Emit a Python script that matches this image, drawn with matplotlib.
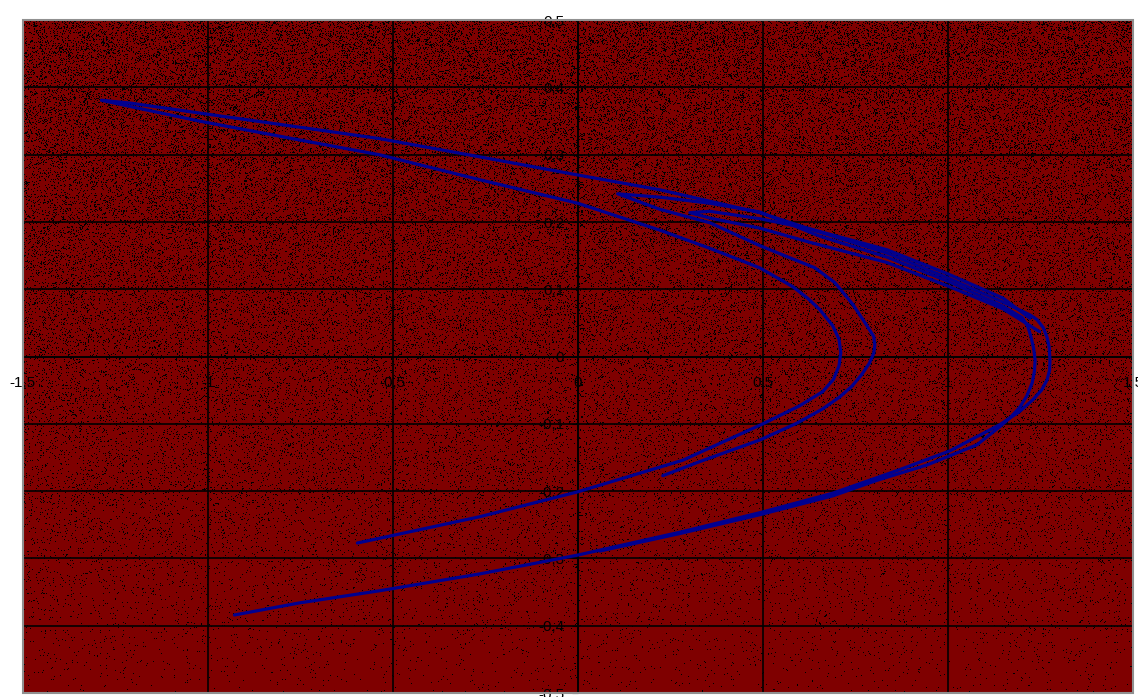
import numpy as np
import matplotlib.pyplot as plt
from matplotlib.patches import Rectangle

# traced branches of the attractor curve
outer_x = [-0.928, -0.752, -0.536, -0.266, -0.001, 0.275, 0.491, 0.688, 0.869, 1.005,
           1.140, 1.192, 1.229, 1.252, 1.267, 1.274, 1.275, 1.273, 1.267, 1.257,
           1.240, 1.221, 1.194, 1.148, 0.999, 0.834, 0.653, 0.491, 0.221, -0.001,
           -0.266, -0.536, -0.752, -1.022, -1.212, -1.287]
outer_y = [-0.384, -0.366, -0.348, -0.323, -0.295, -0.261, -0.232, -0.203, -0.168, -0.140,
           -0.101, -0.082, -0.064, -0.050, -0.035, -0.020, -0.005, 0.014, 0.029, 0.043,
           0.055, 0.062, 0.069, 0.081, 0.117, 0.154, 0.185, 0.214, 0.248, 0.270,
           0.297, 0.324, 0.341, 0.362, 0.377, 0.381]

inner_x = [-0.596, -0.536, -0.266, -0.001, 0.283, 0.499, 0.599, 0.661, 0.690, 0.705,
           0.710, 0.705, 0.688, 0.653, 0.620, 0.580, 0.491, 0.356, 0.221, -0.001,
           -0.266, -0.536, -0.752, -1.022, -1.212, -1.287]
inner_y = [-0.277, -0.270, -0.238, -0.201, -0.154, -0.100, -0.073, -0.052, -0.034, -0.014,
           0.006, 0.026, 0.046, 0.070, 0.087, 0.104, 0.132, 0.161, 0.188, 0.228,
           0.263, 0.300, 0.322, 0.350, 0.372, 0.381]

middle_x = [0.229, 0.329, 0.491, 0.591, 0.660, 0.707, 0.740, 0.766, 0.787, 0.799,
            0.802, 0.799, 0.777, 0.742, 0.694, 0.640, 0.572, 0.491, 0.356,
            0.221, 0.107, 0.221, 0.356, 0.491, 0.653, 0.834, 0.999, 1.148, 1.200,
            1.215, 1.224, 1.231, 1.235, 1.233, 1.227, 1.213, 1.194, 1.169, 1.140,
            1.078, 0.943, 0.807, 0.688, 0.491, 0.275, 0.059]
middle_y = [-0.177, -0.156, -0.124, -0.099, -0.078, -0.060, -0.044, -0.027, -0.010, 0.005,
            0.017, 0.030, 0.049, 0.078, 0.110, 0.132, 0.147, 0.165, 0.199,
            0.219, 0.242, 0.237, 0.228, 0.215, 0.179, 0.148, 0.112, 0.075, 0.058,
            0.045, 0.029, 0.012, -0.005, -0.022, -0.039, -0.058, -0.075, -0.090, -0.104,
            -0.131, -0.161, -0.184, -0.207, -0.235, -0.263, -0.289]

loop_x = [1.247, 1.148, 0.999, 0.834, 0.626, 0.491, 0.356, 0.302, 0.356, 0.491,
          0.626, 0.834, 0.999, 1.148, 1.221]
loop_y = [0.037, 0.071, 0.105, 0.140, 0.170, 0.191, 0.206, 0.214, 0.216, 0.205,
          0.190, 0.159, 0.123, 0.087, 0.057]

x_ticks = [-1.5, -1, -0.5, 0, 0.5, 1, 1.5]
x_labels = ['-1,5', '-1', '-0,5', '0', '0,5', '1', '1,5']
y_ticks = [-0.5, -0.4, -0.3, -0.2, -0.1, 0, 0.1, 0.2, 0.3, 0.4, 0.5]
y_labels = ['-0,5', '-0,4', '-0,3', '-0,2', '-0,1', '0', '0,1', '0,2', '0,3', '0,4', '0,5']

plt.rcParams['font.family'] = ['Liberation Sans', 'DejaVu Sans']

fig = plt.figure(figsize=(11.38, 6.97), dpi=100)
ax = fig.add_axes([0.0200, 0.0057, 0.9758, 0.9653])

# dark red background with black speckles, denser towards the top
rows, cols = 673, 1110
ii, jj = np.meshgrid(np.arange(rows, dtype=np.int64), np.arange(cols, dtype=np.int64), indexing='ij')
k = (ii * 73856093 + jj * 19349663) & 0xFFFFFFFF
k ^= k >> 16
k = (k * 0x45d9f3b) & 0xFFFFFFFF
k ^= k >> 16
k = (k * 0x45d9f3b) & 0xFFFFFFFF
k ^= k >> 16
hashv = k / 2.0 ** 32
density = 0.22 - 0.21 * (ii / (rows - 1))
bg = np.zeros((rows, cols, 3))
bg[..., 0] = np.where(hashv < density, 0.0, 0.5)
ax.imshow(bg, extent=[-1.5, 1.5, -0.5, 0.5], origin='upper', aspect='auto',
          interpolation='nearest', zorder=0)

line_style = dict(color='#000090', lw=2.3, solid_joinstyle='round', solid_capstyle='round', zorder=3)
ax.plot(outer_x, outer_y, **line_style)
ax.plot(inner_x, inner_y, **line_style)
ax.plot(middle_x, middle_y, **line_style)
ax.plot(loop_x, loop_y, **line_style)

ax.set_xlim(-1.5, 1.5)
ax.set_ylim(-0.5, 0.5)
ax.set_xticks(x_ticks)
ax.set_xticklabels(x_labels)
ax.set_yticks(y_ticks)
ax.set_yticklabels(y_labels)
ax.grid(True, color='black', lw=1.2)

ax.spines['left'].set_position('zero')
ax.spines['bottom'].set_position('zero')
ax.spines['top'].set_visible(False)
ax.spines['right'].set_visible(False)
for s in ('left', 'bottom'):
    ax.spines[s].set_color('black')
    ax.spines[s].set_linewidth(1.2)
ax.tick_params(axis='y', direction='out', length=4, pad=6, labelsize=11, colors='black')
ax.tick_params(axis='x', direction='out', length=0, pad=14, labelsize=11, colors='black')

ax.add_patch(Rectangle((0, 0), 1, 1, transform=ax.transAxes, fill=False,
                       ec='#909090', lw=1.5, clip_on=False, zorder=5))

fig.savefig('out.png', dpi=100)
